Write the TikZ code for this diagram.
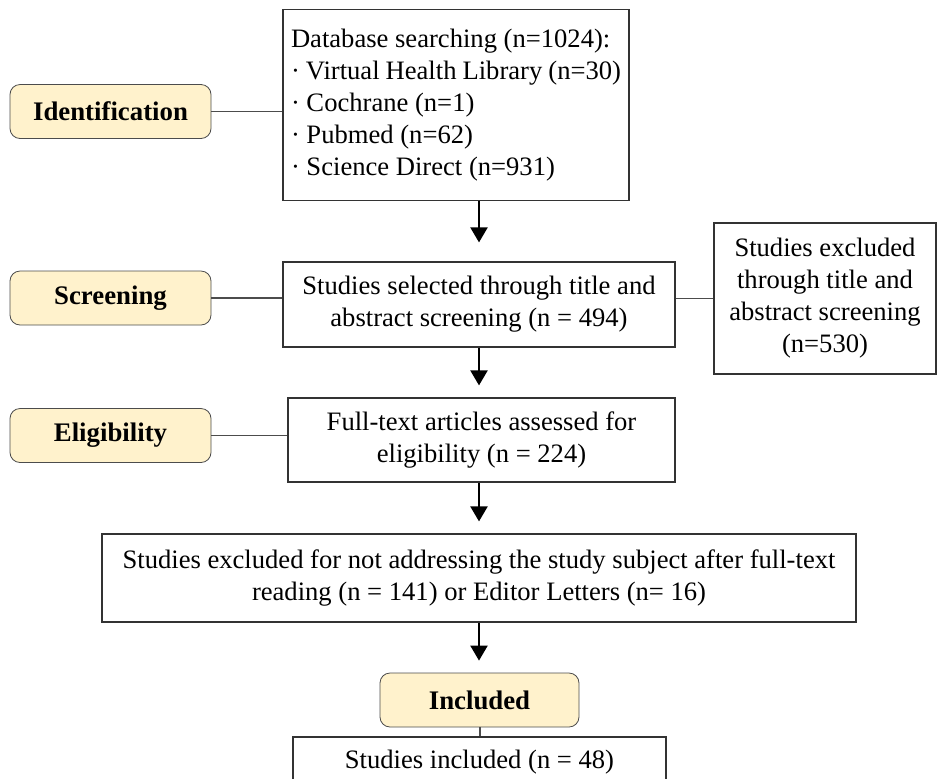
\documentclass[tikz,border=0pt]{standalone}
\usepackage{fontspec}
\setmainfont{Liberation Serif}
\usetikzlibrary{arrows.meta}
\definecolor{stagefill}{HTML}{FFF2CC}

\begin{document}
\begin{tikzpicture}[x=0.5pt,y=-0.5pt,
  stage/.style={draw=black!70,fill=stagefill,rounded corners=5pt,
    minimum width=100.5pt,minimum height=27pt,inner sep=0pt,
    font=\fontsize{13.4}{16}\selectfont\bfseries},
  box/.style={draw=black!80,line width=0.6pt,inner sep=0pt,align=center,
    font=\fontsize{13.3}{16}\selectfont},
  link/.style={draw=black!70,line width=0.6pt},
  flow/.style={line width=1.1pt,-{Triangle[width=8.5pt,length=7.5pt]},shorten >=6pt}
]
\useasboundingbox (0,0) rectangle (938,778);
\clip (0,0) rectangle (938,778);

% stages
\node[stage] (ident) at (110.5,111.5) {Identification};
\node[stage] (scrlab) at (110.5,298) {Screening};
\node[stage] (eliglab) at (110.5,435.5) {Eligibility};
\node[stage,minimum width=99.5pt] (incllab) at (479.5,700) {Included};

% boxes
\node[box,align=flush left,text width=165pt,inner xsep=4pt,minimum height=95.5pt] (db) at (456,105)
  {Database searching (n=1024):\\
   · Virtual Health Library (n=30)\\
   · Cochrane (n=1)\\
   · Pubmed (n=62)\\
   · Science Direct (n=931)};
\node[box,minimum width=196pt,minimum height=42.5pt] (scr) at (479,304.5)
  {Studies selected through title and\\abstract screening (n = 494)};
\node[box,minimum width=111pt,minimum height=75.5pt] (excl) at (825,298.5)
  {Studies excluded\\through title and\\abstract screening\\(n=530)};
\node[box,minimum width=193.5pt,minimum height=42pt] (full) at (481.5,440)
  {Full-text articles assessed for\\eligibility (n = 224)};
\node[box,minimum width=377pt,minimum height=44pt] (exft) at (479,578)
  {Studies excluded for not addressing the study subject after full-text\\reading (n = 141) or Editor Letters (n= 16)};
\node[box,minimum width=186.5pt,minimum height=25pt] (incl) at (479.5,762)
  {Studies included (n = 48)};

% connectors
\draw[link] (ident.east) -- (ident.east -| db.west);
\draw[link] (scrlab.east) -- (scrlab.east -| scr.west);
\draw[link] (scr.east |- excl.west) -- (excl.west);
\draw[link] (eliglab.east) -- (eliglab.east -| full.west);
\draw[link,line width=1pt] (incllab.south) -- (incl.north);

\draw[flow,shorten >=9.5pt] (db.south -| scr.north) -- (scr.north);
\draw[flow] (scr.south) -- (scr.south |- full.north);
\draw[flow] (scr.south |- full.south) -- (scr.south |- exft.north);
\draw[flow] (exft.south) -- (exft.south |- incllab.north);
\end{tikzpicture}
\end{document}
